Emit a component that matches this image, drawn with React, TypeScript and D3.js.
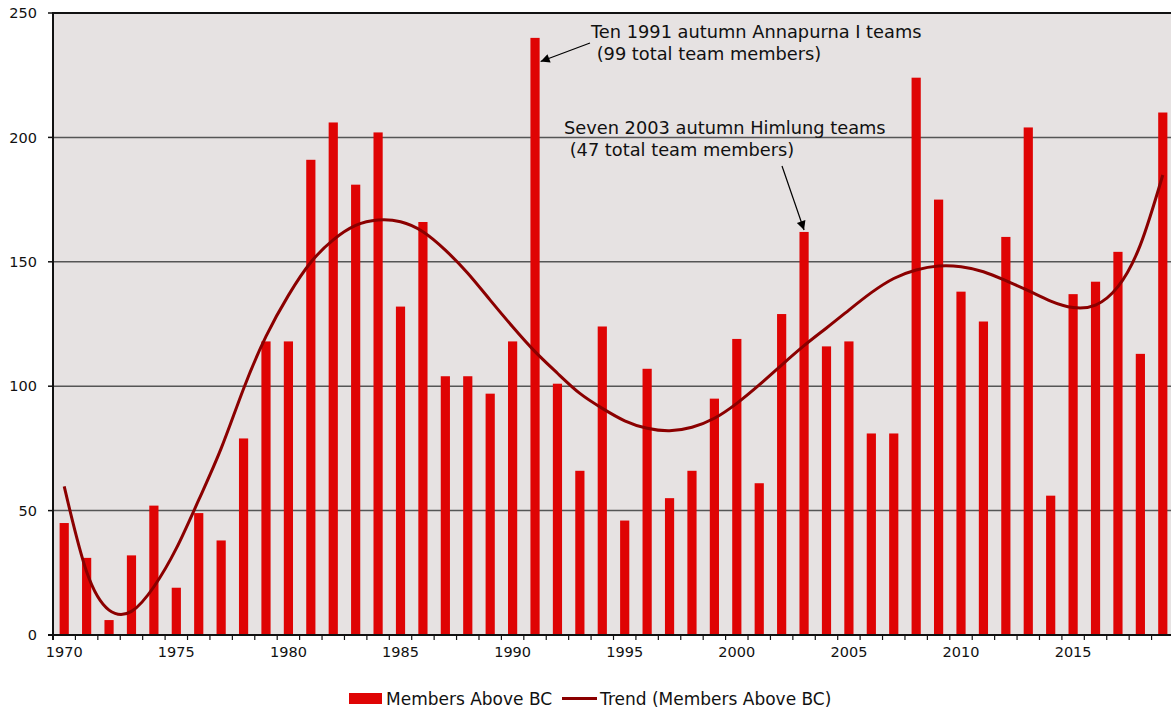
import React from "react";
import * as d3 from "d3";

const years: number[] = d3.range(1970, 2020);
const members: number[] = [
  45, 31, 6, 32, 52, 19, 49, 38, 79, 118,
  118, 191, 206, 181, 202, 132, 166, 104, 104, 97,
  118, 240, 101, 66, 124, 46, 107, 55, 66, 95,
  119, 61, 129, 162, 116, 118, 81, 81, 224, 175,
  138, 126, 160, 204, 56, 137, 142, 154, 113, 210,
];
const trend: number[] = [
  59.7, 25.4, 10, 9.5, 19.4, 34.8, 54.3, 75, 99, 120,
  136.5, 149.8, 158.8, 164.6, 166.8, 166.1, 162.1, 154.7, 145.4, 134.6,
  123.9, 113.9, 105.2, 97.1, 91.1, 86.1, 83.1, 82.1, 83.5, 87.1,
  93.1, 100.5, 108.5, 116.3, 123.4, 130.6, 137.6, 143.3, 146.7, 148.3,
  148, 146, 142.4, 138.4, 134.2, 131.6, 132.6, 140, 156.8, 184.9,
];
const yTicks: number[] = [0, 50, 100, 150, 200, 250];
const xLabelYears: number[] = [1970, 1975, 1980, 1985, 1990, 1995, 2000, 2005, 2010, 2015];
const annotations = [
  { lines: ["Ten 1991 autumn Annapurna I teams", " (99 total team members)"], year: 1991, value: 240 },
  { lines: ["Seven 2003 autumn Himlung teams", " (47 total team members)"], year: 2003, value: 162 },
];
const legendLabels = ["Members Above BC", "Trend (Members Above BC)"];

const W = 1171;
const H = 719;
const FONT = "'DejaVu Sans', Verdana, sans-serif";

export default function App() {
  const left = 53;
  const right = 1174;
  const top = 13;
  const bottom = 635;

  const x = d3
    .scaleBand<number>()
    .domain(years)
    .range([left, right])
    .paddingInner(0.59)
    .paddingOuter(0.295);
  const y = d3.scaleLinear().domain([0, 250]).range([bottom, top]);
  const bw = x.bandwidth();
  const step = x.step();
  const cx = (yr: number) => (x(yr) as number) + bw / 2;

  const line = d3
    .line<number>()
    .x((_, i) => cx(years[i]))
    .y((d) => y(d))
    .curve(d3.curveNatural);

  return (
    <svg
      width={W}
      height={H}
      style={{ position: "absolute", left: 0, top: 0, background: "#fff" }}
      fontFamily={FONT}
    >
      <defs>
        <marker id="ah" viewBox="0 0 10 10" refX="10" refY="5" markerWidth="12" markerHeight="9" orient="auto" markerUnits="userSpaceOnUse">
          <path d="M0,0 L10,5 L0,10 z" fill="#000" />
        </marker>
      </defs>
      <rect x={left} y={top} width={right - left} height={bottom - top} fill="#E6E2E2" />
      {yTicks.filter((t) => t > 0 && t < 250).map((t) => (
        <line key={t} x1={left} x2={right} y1={y(t)} y2={y(t)} stroke="#555" strokeWidth={1.5} />
      ))}
      <line x1={left} x2={right} y1={top} y2={top} stroke="#111" strokeWidth={2} />
      {years.map((yr, i) => (
        <rect key={yr} x={x(yr)} y={y(members[i])} width={bw} height={bottom - y(members[i])} fill="#DF0404" />
      ))}
      <path d={line(trend) || ""} fill="none" stroke="#8B0000" strokeWidth={3} />
      {/* axes */}
      <line x1={left} x2={left} y1={top - 1} y2={bottom + 5} stroke="#111" strokeWidth={2} />
      <line x1={left - 5} x2={right} y1={bottom} y2={bottom} stroke="#111" strokeWidth={2} />
      {yTicks.map((t) => (
        <g key={t}>
          <line x1={left - 5} x2={left} y1={y(t)} y2={y(t)} stroke="#111" strokeWidth={1.5} />
          <text x={37} y={y(t)} dy="0.36em" textAnchor="end" fontSize={14.5} fill="#111">
            {t}
          </text>
        </g>
      ))}
      {years.map((yr) => (
        <line key={yr} x1={cx(yr) - step / 2} x2={cx(yr) - step / 2} y1={bottom} y2={bottom + 5} stroke="#111" strokeWidth={1.2} />
      ))}
      {xLabelYears.map((yr) => (
        <text key={yr} x={cx(yr)} y={657} textAnchor="middle" fontSize={14.5} fill="#111">
          {yr}
        </text>
      ))}
      {/* annotations */}
      <g fontSize={17.8} fill="#111">
        <text x={591} y={38} xmlSpace="preserve">{annotations[0].lines[0]}</text>
        <text x={591} y={60} xmlSpace="preserve">{annotations[0].lines[1]}</text>
        <line x1={590} y1={43} x2={cx(annotations[0].year) + bw / 2 + 1} y2={y(annotations[0].value - 9.5)} stroke="#000" strokeWidth={1.2} markerEnd="url(#ah)" />
        <text x={564} y={134} xmlSpace="preserve">{annotations[1].lines[0]}</text>
        <text x={564} y={156} xmlSpace="preserve">{annotations[1].lines[1]}</text>
        <line x1={782} y1={166} x2={cx(annotations[1].year)} y2={y(annotations[1].value) - 2} stroke="#000" strokeWidth={1.2} markerEnd="url(#ah)" />
      </g>
      {/* legend */}
      <g fontSize={17} fill="#111">
        <rect x={349} y={693} width={33} height={11} fill="#DF0404" />
        <text x={386} y={705}>{legendLabels[0]}</text>
        <line x1={562} x2={597} y1={698.5} y2={698.5} stroke="#8B0000" strokeWidth={3} />
        <text x={600} y={705}>{legendLabels[1]}</text>
      </g>
    </svg>
  );
}
